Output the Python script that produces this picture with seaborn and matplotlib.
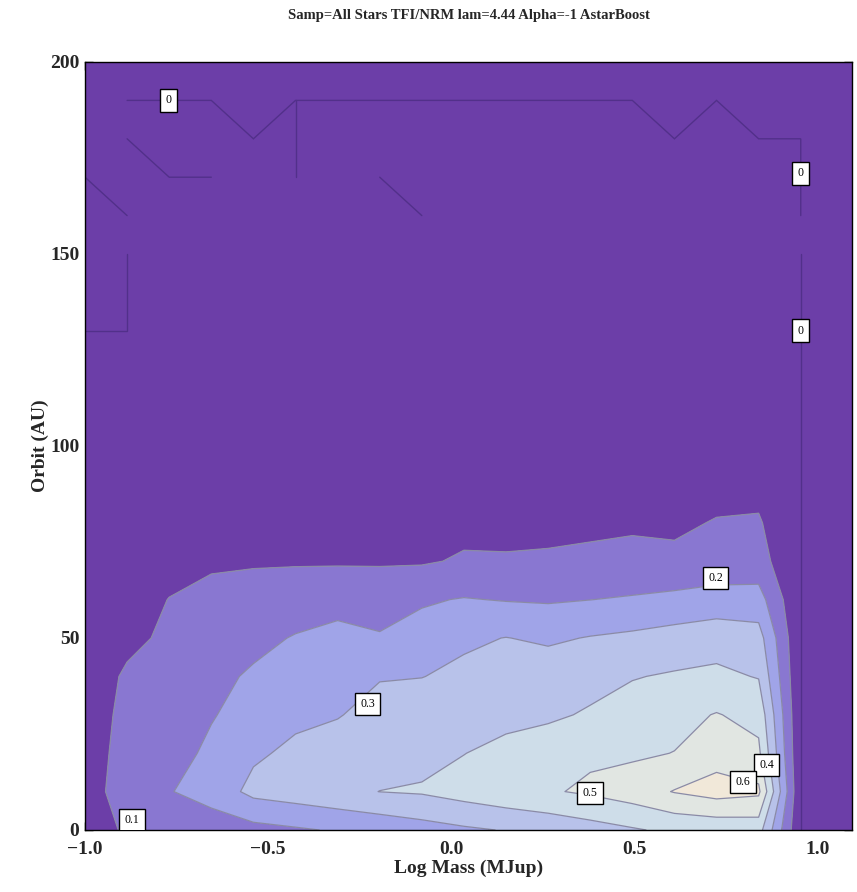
import numpy as np
import matplotlib
matplotlib.use("Agg")
import matplotlib.pyplot as plt
from matplotlib.ticker import MultipleLocator
import seaborn as sns

# ---------------- data ----------------
log_mass = [-1.0, -0.885, -0.77, -0.655, -0.54, -0.425, -0.31, -0.195, -0.08, 0.035,
            0.15, 0.265, 0.38, 0.495, 0.61, 0.725, 0.84, 0.955, 1.07, 1.185]
orbit_au = [0, 10, 20, 30, 40, 50, 60, 70, 80, 90, 100,
            110, 120, 130, 140, 150, 160, 170, 180, 190, 200]

frac_000 = [0.07, 0.108, 0.128, 0.148, 0.168, 0.188, 0.209, 0.23, 0.26, 0.285, 0.305, 0.33, 0.36, 0.39, 0.42, 0.43, 0.44, 0.0, 0.0, 0.0]
frac_010 = [0.06, 0.142, 0.195, 0.239, 0.327, 0.35, 0.375, 0.401, 0.41, 0.44, 0.47, 0.49, 0.515, 0.55, 0.605, 0.64, 0.62, 0.0, 0.0, 0.0]
frac_020 = [0.06, 0.13, 0.17, 0.215, 0.285, 0.32, 0.34, 0.36, 0.37, 0.398, 0.43, 0.45, 0.485, 0.485, 0.502, 0.56, 0.52, 0.0, 0.0, 0.0]
frac_030 = [0.05, 0.125, 0.16, 0.195, 0.23, 0.28, 0.295, 0.33, 0.35, 0.36, 0.37, 0.385, 0.41, 0.44, 0.47, 0.505, 0.47, 0.0, 0.0, 0.0]
frac_040 = [0.05, 0.112, 0.15, 0.18, 0.21, 0.25, 0.28, 0.295, 0.298, 0.32, 0.34, 0.355, 0.37, 0.395, 0.41, 0.42, 0.395, 0.0, 0.0, 0.0]
frac_050 = [0.04, 0.08, 0.115, 0.15, 0.18, 0.205, 0.225, 0.205, 0.235, 0.285, 0.302, 0.285, 0.305, 0.32, 0.34, 0.36, 0.34, 0.0, 0.0, 0.0]
frac_060 = [0.03, 0.06, 0.102, 0.13, 0.15, 0.16, 0.17, 0.175, 0.19, 0.205, 0.195, 0.19, 0.199, 0.21, 0.225, 0.24, 0.24, 0.0, 0.0, 0.0]
frac_070 = [0.02, 0.04, 0.07, 0.085, 0.088, 0.09, 0.09, 0.088, 0.09, 0.11, 0.108, 0.11, 0.115, 0.12, 0.118, 0.135, 0.14, 0.0, 0.0, 0.0]
frac_080 = [0.01, 0.02, 0.04, 0.055, 0.06, 0.06, 0.06, 0.06, 0.065, 0.075, 0.075, 0.08, 0.085, 0.09, 0.085, 0.105, 0.11, 0.0, 0.0, 0.0]
frac_090 = [0.005, 0.01, 0.02, 0.03, 0.035, 0.035, 0.035, 0.035, 0.04, 0.045, 0.045, 0.05, 0.05, 0.055, 0.05, 0.07, 0.07, 0.0, 0.0, 0.0]
frac_far = [0.0, 0.0, 0.0, 0.0, 0.0, 0.0, 0.0, 0.0, 0.0, 0.0, 0.0, 0.0, 0.0, 0.0, 0.0, 0.0, 0.0, 0.0, 0.0, 0.0]  # 100-200 AU

contour_levels = [0.1, 0.2, 0.3, 0.4, 0.5, 0.6]

# level-0 isolines of the reference (mass, AU)
zero_path_top_x = [-0.885, -0.655, -0.54, -0.425, 0.495, 0.61, 0.725, 0.84, 0.955, 0.955]
zero_path_top_y = [190, 190, 180, 190, 190, 180, 190, 180, 180, 160]
zero_path_b_x = [-0.425, -0.425]
zero_path_b_y = [190, 170]
zero_path_c_x = [-0.885, -0.77, -0.655]
zero_path_c_y = [180, 170, 170]
zero_path_d_x = [-0.195, -0.08]
zero_path_d_y = [170, 160]
zero_path_e_x = [-1.0, -0.885]
zero_path_e_y = [170, 160]
zero_path_f_x = [-0.885, -0.885, -1.0]
zero_path_f_y = [150, 130, 130]
zero_path_g_x = [0.955, 0.955]
zero_path_g_y = [150, 0]

# contour label anchors: (text, mass, AU)
label_text = ["0", "0", "0", "0.1", "0.2", "0.3", "0.4", "0.5", "0.6"]
label_mass = [-0.772, 0.955, 0.955, -0.872, 0.723, -0.228, 0.862, 0.379, 0.797]
label_au = [190, 171, 130, 2.6, 65.6, 32.8, 16.9, 9.6, 12.5]

# ---------------- style ----------------
sns.set_theme(style="ticks")
plt.rcParams["font.family"] = ["Liberation Serif", "DejaVu Serif"]

band_colors = ["#6C3EA8", "#8977D1", "#A0A4E8", "#B8C2EA", "#CEDDE9", "#E1E6E2", "#F1E8D9"]

fig = plt.figure(figsize=(8.57, 8.92), dpi=100)
ax = fig.add_axes([85 / 857, 62 / 892, 767 / 857, 768 / 892])

rows = [frac_000, frac_010, frac_020, frac_030, frac_040, frac_050, frac_060,
        frac_070, frac_080, frac_090] + [frac_far] * 11
Z = np.array(rows)
X, Y = np.meshgrid(np.array(log_mass), np.array(orbit_au))

fill_levels = [-1.0] + contour_levels + [2.0]
ax.contourf(X, Y, Z, levels=fill_levels, colors=band_colors, antialiased=True)
ax.contour(X, Y, Z, levels=contour_levels, colors="#8a8aa6", linewidths=0.9)

for px, py in [(zero_path_top_x, zero_path_top_y), (zero_path_b_x, zero_path_b_y),
               (zero_path_c_x, zero_path_c_y), (zero_path_d_x, zero_path_d_y),
               (zero_path_e_x, zero_path_e_y), (zero_path_f_x, zero_path_f_y),
               (zero_path_g_x, zero_path_g_y)]:
    ax.plot(px, py, color="#52308a", lw=1.0, solid_joinstyle="miter")

for t, lx, ly in zip(label_text, label_mass, label_au):
    ax.text(lx, ly, t, fontsize=8.5, ha="center", va="center", color="black",
            bbox=dict(boxstyle="square,pad=0.45", fc="white", ec="black", lw=1.0),
            clip_on=True, zorder=5)

ax.set_xlim(-1.0, 1.095)
ax.set_ylim(0, 200)
ax.xaxis.set_major_locator(MultipleLocator(0.5))
ax.xaxis.set_minor_locator(MultipleLocator(0.1))
ax.yaxis.set_major_locator(MultipleLocator(50))
ax.yaxis.set_minor_locator(MultipleLocator(10))
ax.tick_params(which="both", direction="in", top=True, right=True, color="black")
ax.tick_params(which="major", length=6, width=1.0, labelsize=14)
ax.tick_params(axis="x", which="major", pad=8)
ax.tick_params(axis="y", which="major", pad=4)
ax.tick_params(which="minor", length=3.5, width=0.8)
for lab in ax.get_xticklabels() + ax.get_yticklabels():
    lab.set_fontweight("bold")
for s in ax.spines.values():
    s.set_color("black")
    s.set_linewidth(1.0)

ax.set_xlabel("Log Mass (MJup)", fontsize=14, fontweight="bold", labelpad=1)
ax.set_ylabel("Orbit (AU)", fontsize=14, fontweight="bold", labelpad=1)
ax.set_title("Samp=All Stars TFI/NRM lam=4.44 Alpha=-1 AstarBoost",
             fontsize=10.5, fontweight="bold", pad=31)

fig.savefig("out.png", dpi=100)
